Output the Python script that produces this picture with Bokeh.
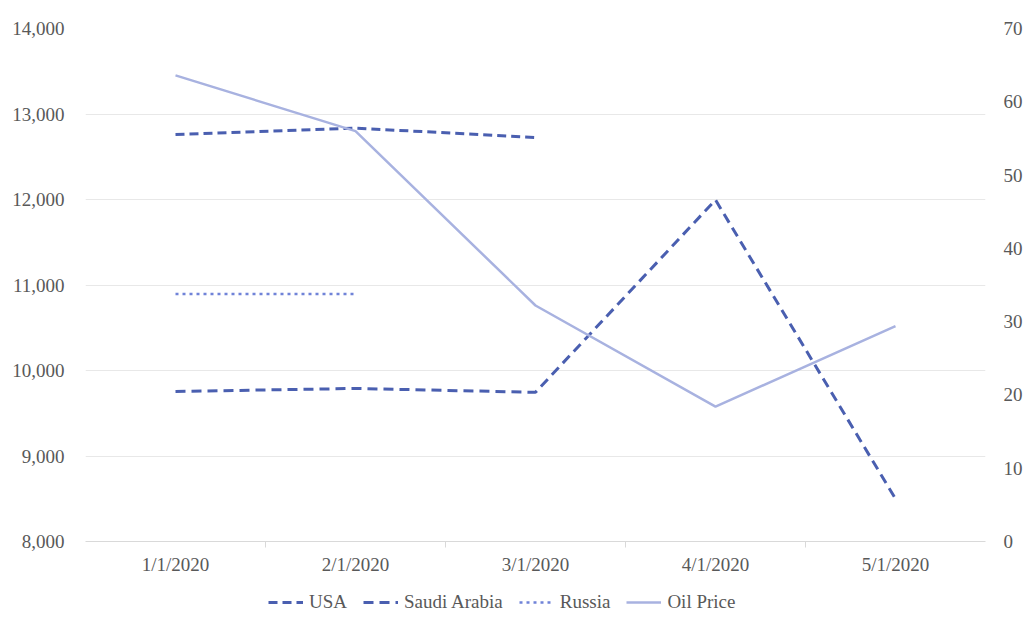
from bokeh.plotting import figure
from bokeh.layouts import column
from bokeh.models import Range1d, LinearAxis, FixedTicker, Legend, LegendItem, NumeralTickFormatter
from bokeh.embed import file_html
from bokeh.resources import INLINE

months = ["1/1/2020", "2/1/2020", "3/1/2020", "4/1/2020", "5/1/2020"]
usa = [12760, 12835, 12725]
saudi = [9755, 9790, 9745, 11995, 8500]
russia = [10895, 10895]
oil_price = [63.6, 56.0, 32.2, 18.4, 29.4]
series_names = ["USA", "Saudi Arabia", "Russia", "Oil Price"]

idx = list(range(len(months)))

FONT = "Liberation Serif"
TXT = "#595959"
FS = "19px"

styles = [
    dict(line_color="#4a5fb0", line_width=3, line_dash="9 5"),
    dict(line_color="#4a5fb0", line_width=3, line_dash="10 6"),
    dict(line_color="#7083d8", line_width=2.5, line_dash="3 4"),
    dict(line_color="#a8b2e0", line_width=2.5),
]
series = [usa, saudi, russia, oil_price]

p = figure(width=1028, height=580, output_backend="svg", toolbar_location=None,
           x_range=Range1d(-0.5, len(months) - 0.5), y_range=Range1d(8000, 14000),
           min_border_left=85, min_border_right=43, min_border_top=28, min_border_bottom=39)
p.outline_line_color = None
p.background_fill_color = "white"
p.border_fill_color = "white"

p.extra_y_ranges = {"price": Range1d(0, 70)}

p.xaxis.ticker = FixedTicker(ticks=idx, minor_ticks=[i + 0.5 for i in idx[:-1]])
p.xaxis.major_label_overrides = {i: m for i, m in zip(idx, months)}
p.xaxis.major_tick_line_color = None
p.xaxis.minor_tick_line_color = "#d9d9d9"
p.xaxis.minor_tick_out = 6
p.xaxis.minor_tick_in = 0
p.xaxis.axis_line_color = "#d9d9d9"
p.xaxis.major_label_text_font = FONT
p.xaxis.major_label_text_font_size = FS
p.xaxis.major_label_text_color = TXT
p.xaxis.major_label_standoff = 6

p.yaxis.ticker = FixedTicker(ticks=list(range(8000, 14001, 1000)))
p.yaxis.formatter = NumeralTickFormatter(format="0,0")
p.yaxis.axis_line_color = None
p.yaxis.major_tick_line_color = None
p.yaxis.minor_tick_line_color = None
p.yaxis.major_label_text_font = FONT
p.yaxis.major_label_text_font_size = FS
p.yaxis.major_label_text_color = TXT
p.yaxis.major_label_standoff = 15

ax2 = LinearAxis(y_range_name="price", ticker=FixedTicker(ticks=list(range(0, 71, 10))))
ax2.axis_line_color = None
ax2.major_tick_line_color = None
ax2.minor_tick_line_color = None
ax2.major_label_text_font = FONT
ax2.major_label_text_font_size = FS
ax2.major_label_text_color = TXT
ax2.major_label_standoff = 12
p.add_layout(ax2, "right")

p.xgrid.grid_line_color = None
p.ygrid.grid_line_color = "#e8e8e8"
p.ygrid.grid_line_width = 1

p.line(idx[:len(usa)], usa, **styles[0])
p.line(idx[:len(saudi)], saudi, **styles[1])
p.line(idx[:len(russia)], russia, **styles[2])
p.line(idx, oil_price, y_range_name="price", **styles[3])

# legend strip below the chart (series drawn out of view, only their legend shows)
lg = figure(width=1028, height=37, output_backend="svg", toolbar_location=None,
            x_range=Range1d(0, 1), y_range=Range1d(0, 1),
            min_border_left=0, min_border_right=0, min_border_top=0, min_border_bottom=0)
lg.axis.visible = False
lg.grid.grid_line_color = None
lg.outline_line_color = None
lg.border_fill_color = "white"
items = []
for name, st, vals in zip(series_names, styles, series):
    r = lg.line(idx[:len(vals)], vals, **st)
    items.append(LegendItem(label=name, renderers=[r]))

legend = Legend(items=items, orientation="horizontal", location=(183, 4))
legend.label_text_font = FONT
legend.label_text_font_size = FS
legend.label_text_color = TXT
legend.border_line_color = None
legend.background_fill_alpha = 0
legend.glyph_width = 35
legend.label_standoff = 6
legend.spacing = 16
legend.margin = 0
legend.padding = 0
lg.add_layout(legend, "center")

layout = column(p, lg, spacing=0)
open("out.html", "w").write(file_html(layout, INLINE))
